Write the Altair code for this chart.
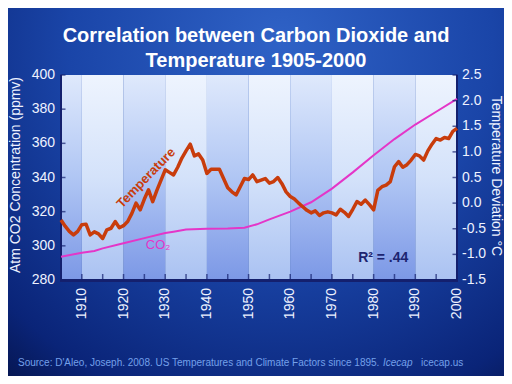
import altair as alt
import pandas as pd

# ---------------- data ----------------
temp_years = list(range(1905, 2001))
temp_vals = [
    -0.33, -0.45, -0.55, -0.62, -0.55, -0.42, -0.41, -0.62, -0.56, -0.60,   # 1905-1914
    -0.69, -0.52, -0.49, -0.36, -0.48, -0.44, -0.36, -0.20, 0.00, -0.13,    # 1915-1924
    0.08, 0.26, 0.03, 0.25, 0.45, 0.65, 0.60, 0.55, 0.70, 0.88,             # 1925-1934
    1.02, 1.15, 0.92, 0.96, 0.84, 0.58, 0.66, 0.66, 0.66, 0.48,             # 1935-1944
    0.30, 0.22, 0.16, 0.32, 0.48, 0.46, 0.55, 0.42, 0.45, 0.48,             # 1945-1954
    0.39, 0.42, 0.50, 0.38, 0.22, 0.13, 0.08, 0.00, -0.07, -0.14,           # 1955-1964
    -0.19, -0.15, -0.24, -0.19, -0.17, -0.19, -0.23, -0.12, -0.18, -0.26,   # 1965-1974
    -0.12, 0.03, -0.02, 0.06, -0.03, -0.13, 0.25, 0.32, 0.35, 0.42,         # 1975-1984
    0.71, 0.81, 0.70, 0.75, 0.84, 0.95, 0.92, 0.84, 1.02, 1.15,             # 1985-1994
    1.26, 1.23, 1.28, 1.26, 1.40, 1.46,                                     # 1995-2000
]

co2_years = [1905, 1910, 1913, 1915, 1919, 1920, 1925, 1930, 1932, 1935, 1940, 1945,
             1949, 1952, 1955, 1960, 1965, 1970, 1975, 1980, 1985, 1990, 1995, 2000]
co2_vals = [293.6, 296.0, 297.0, 298.5, 300.9, 301.5, 304.5, 307.5, 308.3, 309.6, 310.0, 310.2,
            310.6, 312.6, 315.5, 320.0, 325.5, 333.5, 343.0, 353.0, 362.5, 371.0, 378.5, 386.0]

band_start = [1905, 1910, 1920, 1930, 1940, 1950, 1960, 1970, 1980, 1990]
band_end = [1910, 1920, 1930, 1940, 1950, 1960, 1970, 1980, 1990, 2000]
band_kind = ["dark", "light", "dark", "light", "dark", "light", "dark", "light", "dark", "light"]

x_tick_labels = [1910, 1920, 1930, 1940, 1950, 1960, 1970, 1980, 1990, 2000]
x_minor_ticks = list(range(1910, 2000, 5))
co2_ticks = [280, 300, 320, 340, 360, 380, 400]
temp_ticks = [-1.5, -1.0, -0.5, 0.0, 0.5, 1.0, 1.5, 2.0, 2.5]
temp_tick_text = ["-1.5", "-1.0", "-0.5", "0.0", "0.5", "1.0", "1.5", "2.0", "2.5"]

title_lines = ["Correlation between Carbon Dioxide and", "Temperature 1905-2000"]
left_title = "Atm CO2 Concentration (ppmv)"
right_title = "Temperature Deviation °C"
source_text = "Source: D'Aleo, Joseph. 2008. US Temperatures and Climate Factors since 1895."

# ---------------- tables ----------------
temp_df = pd.DataFrame({"year": temp_years, "temp": temp_vals})
co2_df = pd.DataFrame({"year": co2_years, "co2": co2_vals})
band_df = pd.DataFrame({"start": band_start, "end": band_end, "kind": band_kind})
xt_df = pd.DataFrame({"year": x_minor_ticks})
xl_df = pd.DataFrame({"year": x_tick_labels, "t": [str(v) for v in x_tick_labels]})
ct_df = pd.DataFrame({"co2": co2_ticks, "t": [str(v) for v in co2_ticks]})
tt_df = pd.DataFrame({"temp": temp_ticks, "t": temp_tick_text})
one = pd.DataFrame({"a": [0]})

W, H = 396, 205
FONT = "Liberation Sans"
NAVY = "#14206e"
LBL = "#eef2ff"

xscale = alt.Scale(domain=[1905, 2000], nice=False, zero=False)
co2scale = alt.Scale(domain=[280, 400], nice=False, zero=False)
tscale = alt.Scale(domain=[-1.5, 2.5], nice=False, zero=False)

# ---------------- background ----------------
bg = alt.Chart(one).mark_rect(
    fill=alt.RadialGradient(
        gradient="radial",
        stops=[alt.GradientStop(color="#2f62c6", offset=0),
               alt.GradientStop(color="#1a45a8", offset=0.45),
               alt.GradientStop(color="#0a2478", offset=0.8),
               alt.GradientStop(color="#030d38", offset=1)],
        x1=0.55, y1=0.2, x2=0.55, y2=0.2, r1=0, r2=0.95),
).encode(x=alt.value(-53), x2=alt.value(W + 47), y=alt.value(-67), y2=alt.value(H + 96))

light_grad = alt.LinearGradient(
    gradient="linear", x1=0, x2=0, y1=0, y2=1,
    stops=[alt.GradientStop(color="#eef4fe", offset=0),
           alt.GradientStop(color="#d4e2fa", offset=0.5),
           alt.GradientStop(color="#aac2f2", offset=1)])
dark_grad = alt.LinearGradient(
    gradient="linear", x1=0, x2=0, y1=0, y2=1,
    stops=[alt.GradientStop(color="#dfe9fc", offset=0),
           alt.GradientStop(color="#b0c6f4", offset=0.5),
           alt.GradientStop(color="#7c98e6", offset=1)])

bands_light = alt.Chart(band_df).transform_filter(alt.datum.kind == "light").mark_rect(
    fill=light_grad).encode(
    x=alt.X("start:Q", scale=xscale, axis=None), x2="end:Q",
    y=alt.value(0), y2=alt.value(H))
bands_dark = alt.Chart(band_df).transform_filter(alt.datum.kind == "dark").mark_rect(
    fill=dark_grad).encode(
    x=alt.X("start:Q", scale=xscale, axis=None), x2="end:Q",
    y=alt.value(0), y2=alt.value(H))

# frame lines (left, right, bottom)
frame_v = alt.Chart(pd.DataFrame({"p": [0, W]})).mark_rule(color=NAVY, strokeWidth=2).encode(
    x=alt.X("p:Q", scale=None), y=alt.value(0), y2=alt.value(H + 1))
frame_b = alt.Chart(one).mark_rule(color=NAVY, strokeWidth=3).encode(
    x=alt.value(-1), x2=alt.value(W + 1), y=alt.value(H + 0.5))

# ---------------- CO2 (left axis) ----------------
co2_line = alt.Chart(co2_df).mark_line(color="#e436c8", strokeWidth=2).encode(
    x=alt.X("year:Q", scale=xscale, axis=None),
    y=alt.Y("co2:Q", scale=co2scale, axis=None))

co2_label = alt.Chart(pd.DataFrame({"year": [1928.3], "co2": [300.5], "t": ["CO₂"]})).mark_text(
    font=FONT, fontSize=13, color="#e436c8").encode(
    x=alt.X("year:Q", scale=xscale, axis=None),
    y=alt.Y("co2:Q", scale=co2scale, axis=None), text="t:N")

co2_tickmarks = alt.Chart(ct_df).mark_tick(orient="horizontal", size=5, thickness=1.5, color=NAVY).encode(
    x=alt.value(2), y=alt.Y("co2:Q", scale=co2scale, axis=None))

co2_ticklabels = alt.Chart(ct_df).mark_text(font=FONT, fontSize=14, color=LBL, align="right",
                                            baseline="middle").encode(
    x=alt.value(-6), y=alt.Y("co2:Q", scale=co2scale, axis=None), text="t:N")

x_tickmarks = alt.Chart(xt_df).mark_tick(orient="vertical", size=6, thickness=1.5, color=NAVY).encode(
    x=alt.X("year:Q", scale=xscale, axis=None), y=alt.value(H - 3))

x_ticklabels = alt.Chart(xl_df).mark_text(font=FONT, fontSize=14, color=LBL, align="right",
                                          baseline="middle", angle=270).encode(
    x=alt.X("year:Q", scale=xscale, axis=None), y=alt.value(H + 8), text="t:N")

left_axis_title = alt.Chart(one).mark_text(font=FONT, fontSize=14, color=LBL, angle=270,
                                           baseline="middle", text=left_title).encode(
    x=alt.value(-45), y=alt.value(100))
right_axis_title = alt.Chart(one).mark_text(font=FONT, fontSize=14, color=LBL, angle=90,
                                            baseline="middle", text=right_title).encode(
    x=alt.value(W + 39), y=alt.value(101))

titles = alt.Chart(pd.DataFrame({"t": title_lines, "yy": [-39, -14]})).mark_text(
    font=FONT, fontSize=20, fontWeight="bold", color="white").encode(
    x=alt.value(195), y=alt.Y("yy:Q", scale=None), text="t:N")

src1 = alt.Chart(one).mark_text(font=FONT, fontSize=10, color="#74a0ea", align="left",
                                text=source_text).encode(x=alt.value(-43), y=alt.value(288))
src2 = alt.Chart(one).mark_text(font=FONT, fontSize=10, color="#74a0ea", align="left",
                                fontStyle="italic", text="Icecap").encode(x=alt.value(322), y=alt.value(288))
src3 = alt.Chart(one).mark_text(font=FONT, fontSize=10, color="#74a0ea", align="left",
                                text="icecap.us").encode(x=alt.value(360), y=alt.value(288))

left = alt.layer(bg, bands_dark, bands_light, frame_v, frame_b, co2_line, co2_label,
                 co2_tickmarks, co2_ticklabels, x_tickmarks, x_ticklabels,
                 left_axis_title, right_axis_title, titles, src1, src2, src3)

# ---------------- Temperature (right axis) ----------------
temp_line = alt.Chart(temp_df).mark_line(color="#c83c0c", strokeWidth=3.5, strokeJoin="round").encode(
    x=alt.X("year:Q", scale=xscale, axis=None),
    y=alt.Y("temp:Q", scale=tscale, axis=None))

temp_label = alt.Chart(pd.DataFrame({"year": [1925.4], "temp": [0.49], "t": ["Temperature"]})).mark_text(
    font=FONT, fontSize=13, fontWeight="bold", color="#c83c0c", angle=314).encode(
    x=alt.X("year:Q", scale=xscale, axis=None),
    y=alt.Y("temp:Q", scale=tscale, axis=None), text="t:N")

r2_label = alt.Chart(pd.DataFrame({"year": [1982.3], "temp": [-1.07], "t": ["R² = .44"]})).mark_text(
    font=FONT, fontSize=14, fontWeight="bold", color="#1c2470").encode(
    x=alt.X("year:Q", scale=xscale, axis=None),
    y=alt.Y("temp:Q", scale=tscale, axis=None), text="t:N")

t_tickmarks = alt.Chart(tt_df).mark_tick(orient="horizontal", size=5, thickness=1.5, color=NAVY).encode(
    x=alt.value(W - 2), y=alt.Y("temp:Q", scale=tscale, axis=None))

t_ticklabels = alt.Chart(tt_df).mark_text(font=FONT, fontSize=14, color=LBL, align="left",
                                          baseline="middle").encode(
    x=alt.value(W + 5), y=alt.Y("temp:Q", scale=tscale, axis=None), text="t:N")

right = alt.layer(temp_line, temp_label, r2_label, t_tickmarks, t_ticklabels)

chart = alt.layer(left, right).resolve_scale(y="independent").properties(
    width=W, height=H,
    autosize=alt.AutoSizeParams(type="none"),
    padding={"left": 53, "top": 67, "right": 47, "bottom": 96},
    background="#0b2a86",
).configure_view(stroke=None)

chart.save("out.html", embed_options={"renderer": "svg", "actions": False})
